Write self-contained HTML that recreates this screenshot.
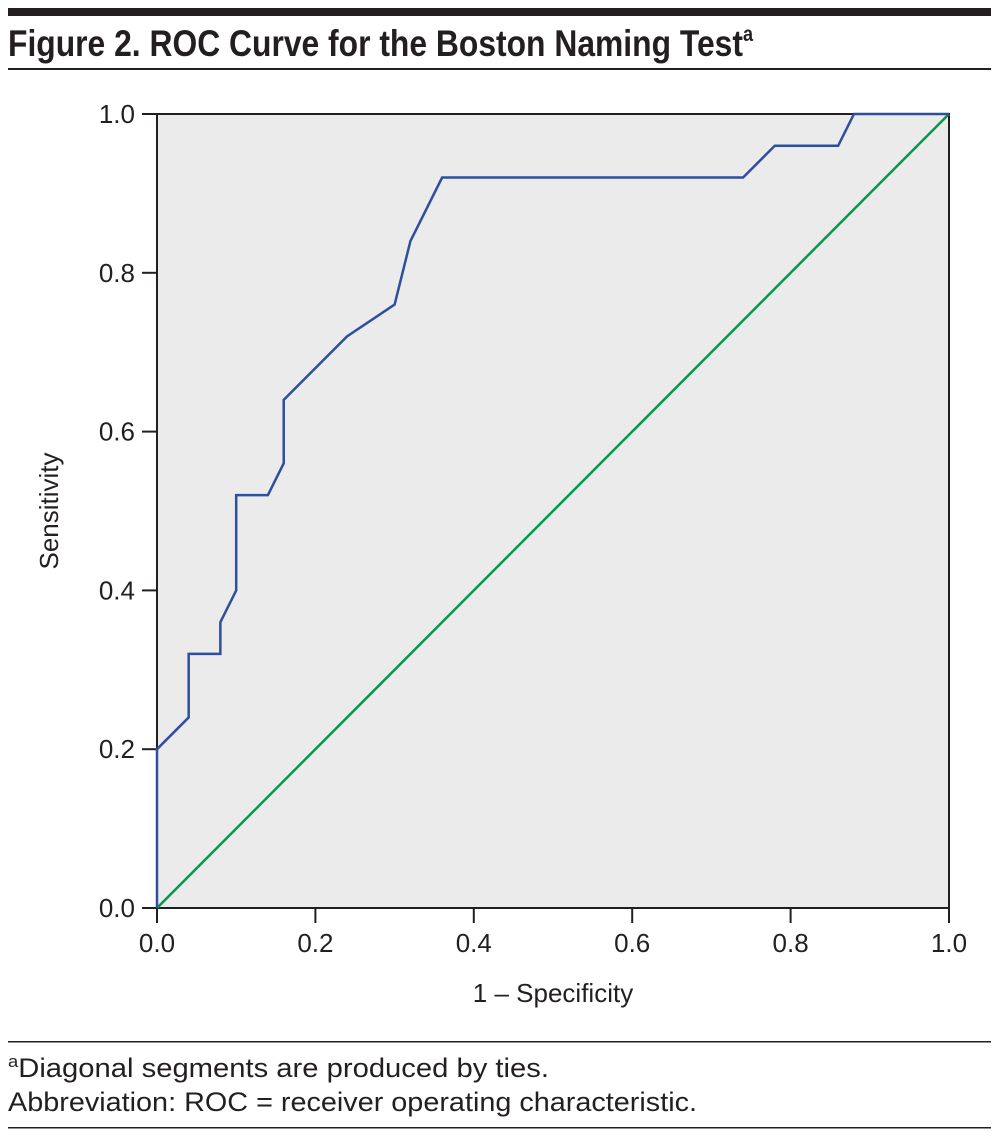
<!DOCTYPE html>
<html><head><meta charset="utf-8"><style>
body{margin:0;width:999px;height:1140px;background:#fff;font-family:"Liberation Sans",sans-serif;}
svg{display:block}
</style></head><body>
<svg width="999" height="1140">
<rect x="8" y="8" width="983" height="8" fill="#231f20"/>
<text x="8" y="56" font-size="37" font-weight="bold" fill="#231f20" textLength="745" lengthAdjust="spacingAndGlyphs">Figure 2. ROC Curve for the Boston Naming Test<tspan font-size="21" dy="-15">a</tspan></text>
<rect x="8" y="68" width="983" height="2" fill="#231f20"/>
<g id="chart"></g>
<text x="553" y="1002" font-size="26" text-anchor="middle" fill="#231f20">1 – Specificity</text>
<text transform="translate(58,511) rotate(-90)" font-size="26" text-anchor="middle" fill="#231f20">Sensitivity</text>
<rect x="8" y="1041" width="983" height="1.5" fill="#231f20"/>
<text x="8" y="1077" font-size="27" fill="#231f20" textLength="541" lengthAdjust="spacingAndGlyphs"><tspan font-size="17" dy="-10">a</tspan><tspan dy="10">Diagonal segments are produced by ties.</tspan></text>
<text x="8" y="1111" font-size="27" fill="#231f20" textLength="689" lengthAdjust="spacingAndGlyphs">Abbreviation: ROC = receiver operating characteristic.</text>
<rect x="8" y="1127" width="983" height="1.5" fill="#231f20"/>
</svg>
<script>
const fpr=[0,0,0.04,0.04,0.08,0.08,0.10,0.10,0.14,0.16,0.16,0.24,0.30,0.32,0.36,0.74,0.78,0.86,0.88,1.0];
const tpr=[0,0.20,0.24,0.32,0.32,0.36,0.40,0.52,0.52,0.56,0.64,0.72,0.76,0.84,0.92,0.92,0.96,0.96,1.0,1.0];
const ticks=[0,0.2,0.4,0.6,0.8,1.0];
const tickLabels=["0.0","0.2","0.4","0.6","0.8","1.0"];
const X0=157,X1=949,Y0=908,Y1=114;
const sx=v=>X0+(X1-X0)*v, sy=v=>Y0-(Y0-Y1)*v;
const g=document.getElementById('chart');
const NS='http://www.w3.org/2000/svg';
function mk(t,a){const e=document.createElementNS(NS,t);for(const k in a)e.setAttribute(k,a[k]);g.appendChild(e);return e;}
let e=mk('rect',{x:X0,y:Y1,width:X1-X0,height:Y0-Y1,fill:'#ebebeb',stroke:'#231f20','stroke-width':2});


ticks.forEach((t,i)=>{
 let a=mk('line',{x1:sx(t),x2:sx(t),y1:Y0,y2:Y0+15,stroke:'#231f20','stroke-width':2});
 
 
 let b=mk('text',{x:sx(t),y:Y0+44,'font-size':26,'text-anchor':'middle',fill:'#231f20'});b.textContent=tickLabels[i];
 
 
 let c=mk('line',{x1:X0-15,x2:X0,y1:sy(t),y2:sy(t),stroke:'#231f20','stroke-width':2});
 
 
 let d=mk('text',{x:X0-22,y:sy(t)+9,'font-size':26,'text-anchor':'end',fill:'#231f20'});d.textContent=tickLabels[i];
 
 
});
let ref=mk('line',{x1:sx(0),y1:sy(0),x2:sx(1),y2:sy(1),stroke:'#009a4a','stroke-width':2.5});


let roc=mk('polyline',{points:fpr.map((v,i)=>sx(v)+','+sy(tpr[i])).join(' '),fill:'none',stroke:'#2e4f9e','stroke-width':2.5});


</script>
</body></html>
